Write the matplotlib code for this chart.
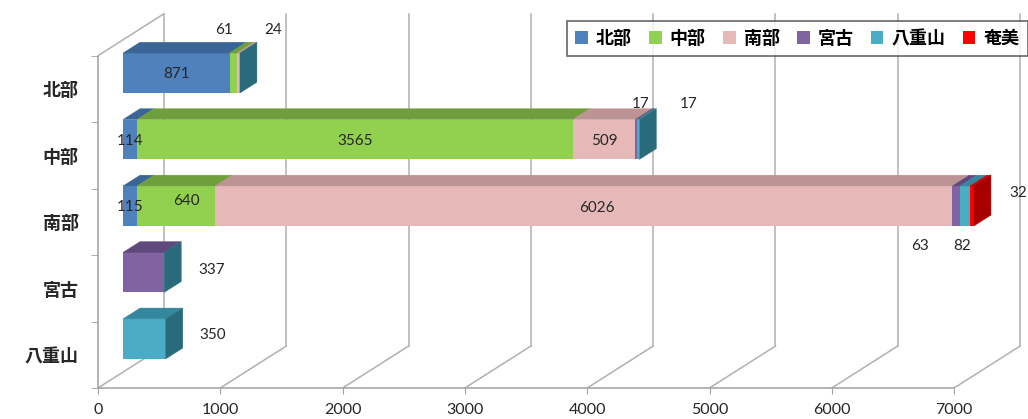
import numpy as np
import matplotlib
matplotlib.use('Agg')
import matplotlib.pyplot as plt
from matplotlib.patches import Polygon

plt.rcParams['font.family'] = ['Lato', 'Noto Sans CJK JP', 'DejaVu Sans']

# rows (hospital area) and series (patient origin); nan = no entry
areas = ['北部', '中部', '南部', '宮古', '八重山']
series = ['北部', '中部', '南部', '宮古', '八重山', '奄美']
nan = np.nan
hokubu = [871, 114, 115, nan, nan]
chubu = [61, 3565, 640, nan, nan]
nanbu = [24, 509, 6026, nan, nan]
miyako = [0, 17, 63, 337, nan]
yaeyama = [0, 17, 82, 0, 350]
amami = [nan, nan, 32, nan, nan]
values = [hokubu, chubu, nanbu, miyako, yaeyama, amami]
xticks = [0, 1000, 2000, 3000, 4000, 5000, 6000, 7000]

front = ['#4f81bd', '#92d050', '#e6b9b8', '#8064a2', '#4bacc6', '#ff0000']
top = ['#3b6597', '#6f9f3d', '#bd9493', '#5f497c', '#34879d', '#c40000']
side = ['#2f5079', '#557d2e', '#9a7372', '#4b3a63', '#2a6b7b', '#a80000']

# label offsets in pixels (right, down) from the front-face centre
offs = {(0, 1): (-9, -43), (0, 2): (35, -43), (1, 3): (4, -36), (1, 4): (50, -36),
        (2, 1): (10, -5), (2, 2): (13, 2), (2, 3): (-36, 40), (2, 4): (-3, 40),
        (2, 5): (46, -13), (3, 3): (68, -2), (4, 4): (68, -4)}

W, H = 1028, 419
fig = plt.figure(figsize=(W/100, H/100), dpi=100)
x0px, y0px = 98, 388
ax = fig.add_axes([x0px/W, (H-y0px)/H, (W-x0px)/W, y0px/H])
XS = 122.3/1000.0   # px per unit
YS = 66.5           # px per category
ax.set_xlim(0, (W-x0px)/XS)
ax.set_ylim(4.5, -89/YS)

DX, DY = 66/XS, 42/YS          # full depth of the 3d box
d0, db = 25/66.0, 17/66.0       # bar front depth and bar thickness
bh = 40/YS
gc = '#b0b0b0'

# floor diagonals and back wall gridlines
for xv in xticks:
    ax.plot([xv, xv+DX], [4.5, 4.5-DY], color=gc, lw=1.1, zorder=0.5)
    ax.plot([xv+DX, xv+DX], [4.5-DY, -0.5-DY], color=gc, lw=1.1, zorder=0.5)
ax.plot([0, DX], [-0.5, -0.5-DY], color=gc, lw=1.1, zorder=0.5)

ypos = np.arange(len(areas)) - d0*DY
bdx, bdy = db*DX, db*DY
lefts = np.zeros(len(areas))
handles = []
last = [max(i for i in range(len(series)) if not np.isnan(values[i][r])) for r in range(len(areas))]
seg = {}
for i, name in enumerate(series):
    w = np.nan_to_num(np.array(values[i], dtype=float))
    bars = ax.barh(ypos, w, left=lefts + d0*DX, height=bh, color=front[i],
                   lw=0, zorder=2, label=name)
    handles.append(bars)
    for r in range(len(areas)):
        if np.isnan(values[i][r]):
            continue
        xa = lefts[r] + d0*DX
        xb = xa + w[r]
        yt = ypos[r] - bh/2
        yb = ypos[r] + bh/2
        if w[r] > 0:
            ax.add_patch(Polygon([(xa, yt), (xb, yt), (xb+bdx, yt-bdy), (xa+bdx, yt-bdy)],
                                 closed=True, fc=top[i], ec=top[i], lw=0.3, zorder=2))
        seg[(r, i)] = (xa, xb, yt, yb)
    lefts += w

for r in range(len(areas)):
    xa, xb, yt, yb = seg[(r, last[r])]
    i = last[r]
    ax.add_patch(Polygon([(xb, yt), (xb, yb), (xb+bdx, yb-bdy), (xb+bdx, yt-bdy)],
                         closed=True, fc=side[i], ec=side[i], lw=0.3, zorder=2))

# data labels
for (r, i), (xa, xb, yt, yb) in seg.items():
    v = values[i][r]
    if not v:
        continue
    ox, oy = offs.get((r, i), (0, 1))
    ax.annotate(f'{int(v)}', xy=((xa+xb)/2, ypos[r]), xytext=(ox*0.72, -oy*0.72),
                textcoords='offset points', ha='center', va='center',
                fontsize=11, color='#262626', zorder=5)

for s in ['top', 'right']:
    ax.spines[s].set_visible(False)
ax.spines['left'].set_bounds(-0.5, 4.5)
ax.spines['bottom'].set_bounds(0, 7000)
for s in ['left', 'bottom']:
    ax.spines[s].set_color('#a0a0a0')
    ax.spines[s].set_linewidth(1.1)

ax.set_xticks(xticks)
ax.set_xticklabels([str(t) for t in xticks])
ax.tick_params(axis='x', direction='out', length=4, color='#a0a0a0', pad=7,
               labelsize=11.5, labelcolor='#262626')
ax.set_yticks(range(len(areas)))
ax.set_yticklabels(areas, fontsize=13, fontweight='bold', color='#262626',
                   family=['Noto Sans CJK JP'])
ax.tick_params(axis='y', which='major', length=0, pad=14)
ax.set_yticks(np.arange(-0.5, 5, 1), minor=True)
ax.tick_params(axis='y', which='minor', direction='out', length=5, color='#a0a0a0')

leg = fig.legend(handles=handles, loc='upper left', bbox_to_anchor=(567/W, 1-21/H),
                 ncol=6, frameon=True, fancybox=False, borderpad=0.45, borderaxespad=0,
                 handlelength=0.7, handleheight=0.7, handletextpad=0.45,
                 columnspacing=0.95, prop={'family': 'Noto Sans CJK JP',
                                           'weight': 'bold', 'size': 13})
leg.get_frame().set_edgecolor('#404040')
leg.get_frame().set_linewidth(1.2)

fig.savefig('out.png', dpi=100)
